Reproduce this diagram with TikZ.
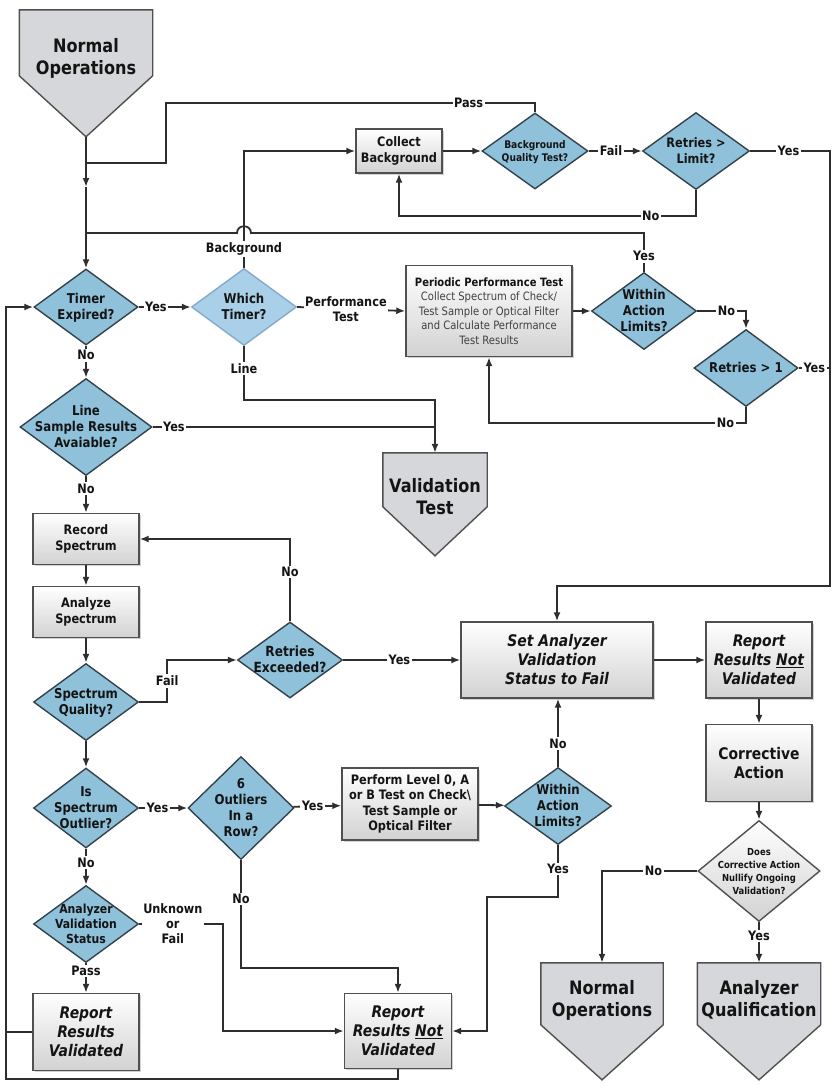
\documentclass[tikz,border=0pt]{standalone}
\usepackage{fontspec}
\setmainfont{DejaVu Sans}[FakeStretch=0.87]
\usepackage{tikz}
\usetikzlibrary{positioning}
\usetikzlibrary{calc}
\usetikzlibrary{shapes.geometric}
\usetikzlibrary{arrows.meta}
\usetikzlibrary{shadows}
\usetikzlibrary{backgrounds}

\definecolor{lineclr}{HTML}{2E2E2E}
\definecolor{txtclr}{HTML}{141414}
\definecolor{dblue}{HTML}{8FC1DA}
\definecolor{dblueedge}{HTML}{34424C}
\definecolor{lightblue}{HTML}{A9D0E8}
\definecolor{lightedge}{HTML}{86AACB}
\definecolor{boxedge}{HTML}{505050}
\definecolor{boxgray}{HTML}{D2D2D2}
\definecolor{pentgray}{HTML}{D5D7DA}
\definecolor{softtext}{HTML}{404040}

% text of a decision, without size of its own
\newcommand{\ctr}[1]{\smash{\makebox[0pt]{\raisebox{-.35em}{\begin{tabular}{@{}c@{}}#1\end{tabular}}}}}

\begin{document}
\begin{tikzpicture}[x=1pt, y=-1pt]

% Define styles for different elements
\tikzstyle{process} = [rectangle, draw=boxedge, line width=1.4pt, top color=white, bottom color=boxgray, drop shadow={shadow xshift=1.5pt, shadow yshift=-1.5pt, opacity=.35}, text=txtclr, align=center, inner sep=2pt, font=\bfseries\fontsize{13}{16}\selectfont]
\tikzstyle{result} = [font=\bfseries\itshape\fontsize{16}{19}\selectfont]
\tikzstyle{decision} = [diamond, draw=dblueedge, fill=dblue, line width=1.4pt, inner sep=0pt, text=txtclr, font=\bfseries\fontsize{13.5}{16}\selectfont]
\tikzstyle{offpage} = [rectangle, draw=none, inner sep=0pt, text=txtclr, align=center, font=\bfseries\fontsize{18.5}{22}\selectfont]
\tikzstyle{pentagon} = [fill=pentgray, draw=boxedge, line width=1.4pt, line join=miter]
\tikzstyle{conn} = [draw=lineclr, line width=1.8pt]
\tikzstyle{arrow} = [conn, ->, >={Latex[length=9pt,width=7pt]}]
\tikzstyle{lbl} = [fill=white, inner sep=1.5pt, text=txtclr, align=center, font=\bfseries\fontsize{13}{15}\selectfont]

\useasboundingbox (0,0) rectangle (834,1085);

% Draw the nodes
\node (start) [offpage, minimum width=133, minimum height=96] at (86,58) {Normal\\Operations};
\node (timer) [decision, minimum width=104, minimum height=76] at (86,307) {\ctr{Timer\\Expired?}};
\node (which) [decision, fill=lightblue, draw=lightedge, minimum width=105, minimum height=77] at (244,307) {\ctr{Which\\Timer?}};
\node (linesample) [decision, minimum width=132, minimum height=97] at (86,427) {\ctr{Line\\Sample Results\\Avaiable?}};
\node (record) [process, minimum width=106, minimum height=51] at (86,539) {Record\\Spectrum};
\node (analyze) [process, minimum width=106, minimum height=51] at (86,612) {Analyze\\Spectrum};
\node (quality) [decision, minimum width=105, minimum height=77] at (86,702) {\ctr{Spectrum\\Quality?}};
\node (outlier) [decision, minimum width=105, minimum height=80] at (86,808) {\ctr{Is\\Spectrum\\Outlier?}};
\node (status) [decision, font=\bfseries\fontsize{12.5}{15}\selectfont, minimum width=105, minimum height=77] at (86,924) {\ctr{Analyzer\\Validation\\Status}};
\node (reportok) [process, result, minimum width=106, minimum height=77] at (86,1032) {Report\\Results\\Validated};

\node (collect) [process, minimum width=86, minimum height=44] at (399,151) {Collect\\Background};
\node (bgq) [decision, font=\bfseries\fontsize{10.5}{13}\selectfont, minimum width=106, minimum height=76] at (535,151) {\ctr{Background\\Quality Test?}};
\node (limit) [decision, font=\bfseries\fontsize{13}{16}\selectfont, minimum width=107, minimum height=77] at (696,151) {\ctr{Retries >\\Limit?}};
\node (periodic) [process, font=\fontsize{11.5}{14.5}\selectfont, minimum width=166, minimum height=91] at (489,311) {\textbf{Periodic Performance Test}\\\textcolor{softtext}{Collect Spectrum of Check/}\\\textcolor{softtext}{Test Sample or Optical Filter}\\\textcolor{softtext}{and Calculate Performance}\\\textcolor{softtext}{Test Results}};
\node (within1) [decision, minimum width=105, minimum height=77] at (644,311) {\ctr{Within\\Action\\Limits?}};
\node (retry1) [decision, minimum width=104, minimum height=77] at (746,368) {\ctr{Retries > 1}};
\node (valid) [offpage, minimum width=104, minimum height=88] at (435,497) {Validation\\Test};

\node (exceeded) [decision, font=\bfseries\fontsize{14}{16}\selectfont, minimum width=105, minimum height=76] at (290,660) {\ctr{Retries\\Exceeded?}};
\node (setfail) [process, result, minimum width=192, minimum height=76] at (557,660) {Set Analyzer\\Validation\\Status to Fail};
\node (notval1) [process, result, minimum width=106, minimum height=76] at (759,660) {Report\\Results \underline{Not}\\Validated};
\node (corrective) [process, font=\bfseries\fontsize{16}{19}\selectfont, minimum width=106, minimum height=77] at (759,763) {Corrective\\Action};
\node (six) [decision, minimum width=106, minimum height=103] at (241,808) {\ctr{6\\Outliers\\In a\\Row?}};
\node (perform) [process, font=\bfseries\fontsize{13}{15.5}\selectfont, minimum width=136, minimum height=72] at (410,804) {Perform Level 0, A\\or B Test on Check\textbackslash\\Test Sample or\\Optical Filter};
\node (within2) [decision, minimum width=107, minimum height=77] at (558,806) {\ctr{Within\\Action\\Limits?}};
\node (nullify) [decision, draw=boxedge, top color=white, bottom color=boxgray, font=\bfseries\fontsize{9.7}{13}\selectfont, minimum width=122, minimum height=101] at (759,871) {\ctr{Does\\Corrective Action\\Nullify Ongoing\\Validation?}};
\node (notval2) [process, result, minimum width=107, minimum height=75] at (398,1031) {Report\\Results \underline{Not}\\Validated};
\node (normal) [offpage, minimum width=122, minimum height=74] at (602,1000) {Normal\\Operations};
\node (qualif) [offpage, minimum width=123, minimum height=74] at (759,1000) {Analyzer\\Qualification};

\coordinate (start-tip) at ($(start.north)+(0,127)$);
\coordinate (j1) at (86,163);
\coordinate (a1) at (86,187);
\coordinate (j2) at (86,233);
\coordinate (edge) at (830,586);
\coordinate (loop) at (6,1079);

% off-page shapes behind their texts
\begin{scope}[on background layer]
\fill[white] (0,0) rectangle (834,1085);
\foreach \n/\s/\p in {start/66/127, valid/54/103, normal/62/117, qualif/62/117}
  \draw[pentagon] (\n.north west) -- (\n.north east) -- ($(\n.north east)+(0,\s)$) -- ($(\n.north)+(0,\p)$) -- ($(\n.north west)+(0,\s)$) -- cycle;
\end{scope}

% Draw the arrows
\draw [arrow] (start-tip) -- (a1);
\draw [arrow] (a1) -- (timer.north);

\draw [arrow] (which.north) |- node[lbl, pos=.08] {Background} (collect.west);
\draw [arrow] (collect) -- (bgq);
\draw [conn] (bgq.north) |- node[lbl, pos=.59] {Pass} (166,103) |- (j1);
\draw [arrow] (bgq) -- node[lbl, pos=.42] {Fail} (limit);
\draw [arrow] (limit.south) -- ++(0,26) -| node[lbl, pos=.076] {No} (collect.south);
\draw [arrow] (limit.east) -| node[lbl, pos=.24] {Yes} (edge) -| (setfail.north);

\draw [arrow] (which.east) -- node[lbl, pos=.45] {Performance\\Test} (periodic.west);
\draw [arrow] (periodic) -- (within1);
\draw [conn] (within1.north) -- node[lbl, pos=.4] {Yes} (within1.north |- j2) -- (251,233) .. controls (251,224) and (237,224) .. (237,233) -- (j2);
\draw [arrow] (within1.east) -| node[lbl, pos=.3] {No} (retry1.north);
\draw [conn] (retry1.east) -- node[lbl] {Yes} (retry1.east -| edge);
\draw [arrow] (retry1.south) -- ++(0,16) -| node[lbl, pos=.04] {No} (periodic.south);

\draw [arrow] (which.south) -- node[lbl, pos=.41] {Line} ++(0,54) -| (valid.north);
\draw [conn] (linesample.east) -- node[lbl, pos=.075] {Yes} (linesample.east -| valid.north);

\draw [arrow] (timer) -- node[lbl, pos=.33] {Yes} (which);
\draw [arrow] (timer) -- node[lbl, pos=.3] {No} (linesample);
\draw [arrow] (linesample) -- node[lbl, pos=.34] {No} (record);
\draw [arrow] (record) -- (analyze);
\draw [arrow] (analyze) -- (quality);
\draw [arrow] (quality.east) -- ++(28,0) |- node[lbl, pos=.25] {Fail} (exceeded.west);
\draw [arrow] (exceeded.north) |- node[lbl, pos=.3] {No} (record.east);
\draw [arrow] (exceeded) -- node[lbl, pos=.48] {Yes} (setfail);
\draw [arrow] (quality) -- (outlier);
\draw [arrow] (outlier) -- node[lbl, pos=.38] {Yes} (six);
\draw [arrow] (six) -- node[lbl, pos=.4] {Yes} (perform);
\draw [arrow] (perform) -- (within2);
\draw [arrow] (within2.north) -- node[lbl, pos=.34] {No} (within2.north |- setfail.south);
\draw [arrow] (outlier) -- node[lbl, pos=.38] {No} (status);
\draw [arrow] (status) -- node[lbl, pos=.26] {Pass} (reportok);
\draw [arrow] (status.east) -- node[lbl, pos=.4] {Unknown\\or\\Fail} ++(84,0) |- (notval2.west);
\draw [arrow] (six.south) -- node[lbl, pos=.36] {No} ++(0,108) -| (notval2.north);
\draw [arrow] (within2.south) -- node[lbl, pos=.46] {Yes} ++(0,52) -| ($(notval2.east)+(35,0)$) -- (notval2.east);

\draw [arrow] (setfail) -- (notval1);
\draw [arrow] (notval1) -- (corrective);
\draw [arrow] (corrective) -- (nullify);
\draw [arrow] (nullify.west) -| node[lbl, pos=.23] {No} (normal.north);
\draw [arrow] (nullify) -- node[lbl, pos=.34] {Yes} (qualif);

\draw [arrow] (notval2.south) |- (loop) |- (timer.west);
\draw [conn] (reportok.west) -- (reportok.west -| loop);
\end{tikzpicture}
\end{document}
